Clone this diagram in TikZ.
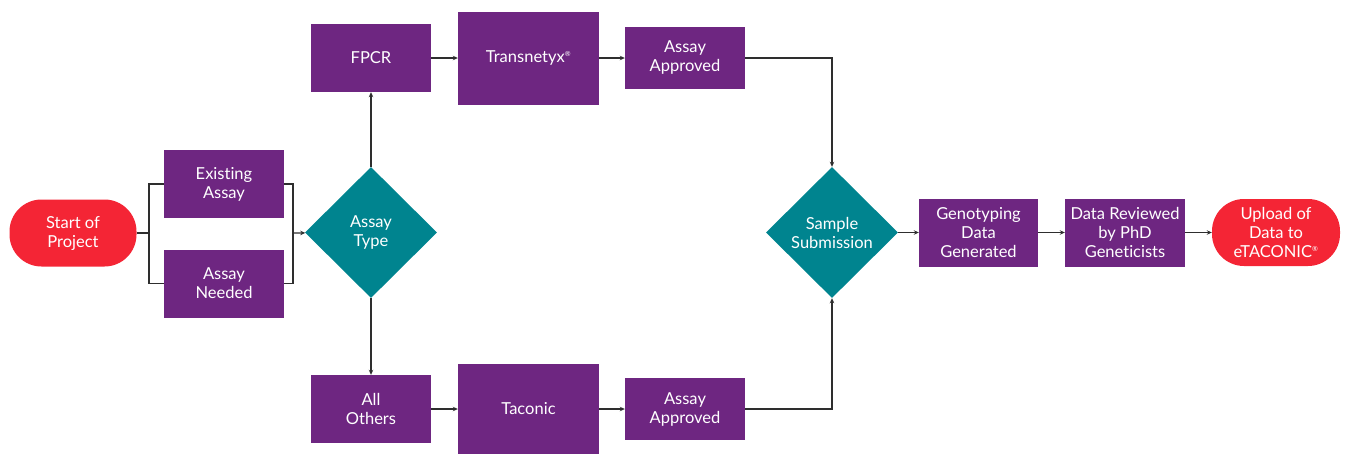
\documentclass[tikz,border=0pt]{standalone}
\usepackage{fontspec}
\setmainfont{Lato}[Ligatures=NoCommon]
\usetikzlibrary{shapes.geometric,arrows.meta}
\definecolor{stepviolet}{HTML}{6E2681}
\definecolor{stepteal}{HTML}{00848F}
\definecolor{stepred}{HTML}{F42535}
\begin{document}
\begin{tikzpicture}[x=1pt,y=-1pt,
    every node/.style={text=white,align=center,inner sep=0pt,font=\fontsize{16.5}{19}\selectfont},
    box/.style={fill=stepviolet,minimum width=120pt,minimum height=68pt},
    bigbox/.style={fill=stepviolet,minimum width=141pt,minimum height=93pt},
    okbox/.style={fill=stepviolet,minimum width=120pt,minimum height=62pt},
    pill/.style={fill=stepred,rounded corners=32pt,minimum width=127pt,minimum height=67pt},
    choice/.style={diamond,aspect=1,fill=stepteal,minimum width=132pt,minimum height=131pt},
    link/.style={draw=black!82,line width=1.2pt},
    arr/.style={link,-{Stealth[length=5pt,width=4.5pt]}},]
        \useasboundingbox (0,0) rectangle (1345,453);
        \node[pill] (start) at (73,233) {Start of\\Project};
        \node[box] (exist) at (224,184) {Existing\\Assay};
        \node[box] (need) at (224,283.5) {Assay\\Needed};
        \node[choice] (type) at (371,232.5) {Assay\\Type};
        \node[box] (fpcr) at (371,58) {FPCR};
        \node[bigbox] (trans) at (528.5,58) {Transnetyx\textsuperscript{\fontsize{7}{7}\selectfont ®}};
        \node[okbox] (okA) at (685,58) {Assay\\Approved};
        \node[box] (others) at (371,409) {All\\Others};
        \node[bigbox,minimum height=90pt] (taconic) at (528.5,409) {Taconic};
        \node[okbox] (okB) at (685,409) {Assay\\Approved};
        \node[choice] (sample) at (832,232.5) {Sample\\Submission};
        \node[box,minimum width=119pt] (geno) at (978.5,232.5) {Genotyping\\Data\\Generated};
        \node[box] (review) at (1125,232.5) {Data Reviewed\\by PhD\\Geneticists};
        \node[pill,minimum width=128pt] (upload) at (1276,232.5) {Upload of\\Data to\\eTACONIC\textsuperscript{\fontsize{7}{7}\selectfont ®}};
        \coordinate (split) at (149,233);
        \coordinate (join) at (293,233);
        \draw[link] (start) -- (split);
        \draw[link] (split) |- (exist);
        \draw[link] (split) |- (need);
        \draw[link] (exist) -| (join);
        \draw[link] (need) -| (join);
        \draw[arr] (join) -- (type);
        \draw[arr] (type) -- (fpcr);
        \draw[arr] (type) -- (others);
        \draw[arr] (fpcr) -- (trans);
        \draw[arr] (trans) -- (okA);
        \draw[arr] (others) -- (taconic);
        \draw[arr] (taconic) -- (okB);
        \draw[arr] (okA) -| (sample);
        \draw[arr] (okB) -| (sample);
        \draw[arr] (sample) -- (geno);
        \draw[arr] (geno) -- (review);
        \draw[arr] (review) -- (upload);
\end{tikzpicture}
\end{document}
